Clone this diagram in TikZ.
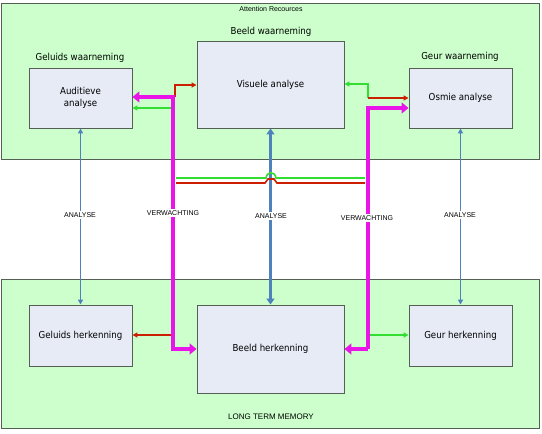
\documentclass[tikz,border=0pt]{standalone}
\usepackage{fontspec}
\setmainfont{Liberation Sans}
\newfontfamily\boxfont[FakeStretch=0.9]{DejaVu Sans}
\usetikzlibrary{arrows.meta}
\definecolor{bggreen}{RGB}{204,255,204}
\definecolor{boxfill}{RGB}{230,235,246}
\definecolor{frame}{RGB}{85,95,85}
\definecolor{magc}{RGB}{232,20,232}
\definecolor{greenc}{RGB}{50,222,50}
\definecolor{redc}{RGB}{204,30,0}
\definecolor{bluec}{RGB}{79,129,189}
\tikzset{
  area/.style={draw=frame,fill=bggreen,line width=0.9pt,inner sep=0pt},
  procbox/.style={draw=frame,fill=boxfill,line width=0.9pt,inner sep=0pt,align=center,font=\boxfont\fontsize{9.6}{12}\selectfont},
  title/.style={font=\boxfont\fontsize{9.6}{12}\selectfont,inner sep=0pt},
  small/.style={font=\fontsize{7}{8}\selectfont,inner sep=0pt},
  lbl/.style={font=\fontsize{7}{8}\selectfont,fill=white,inner sep=2pt},
  magline/.style={draw=magc,line width=4pt,-{Triangle[length=7pt,width=11pt]}},
  grline/.style={draw=greenc,line width=1.6pt,-{Triangle[length=5pt,width=5pt]}},
  rdline/.style={draw=redc,line width=1.6pt,-{Triangle[length=5pt,width=5pt]}},
  blline/.style={draw=bluec,line width=1.4pt,{Triangle[length=5pt,width=5pt]}-{Triangle[length=5pt,width=5pt]}},
  blthick/.style={draw=bluec,line width=3pt,{Triangle[length=6pt,width=8pt]}-{Triangle[length=6pt,width=8pt]}},
}
\begin{document}
\begin{tikzpicture}[x=1pt,y=-1pt]
\useasboundingbox (0,0) rectangle (542,434);
% areas
\node[area,minimum width=538pt,minimum height=156pt] (top) at (270.5,81) {};
\node[area,minimum width=538pt,minimum height=149pt] (bot) at (270.5,353.5) {};
\node[small] (att) at (271,9) {Attention Recources};
\node[small,font=\fontsize{8}{9}\selectfont] (ltm) at (271,417) {LONG TERM MEMORY};
\node[title] (t1) at (271,32) {Beeld waarneming};
\node[title] (t2) at (80,58) {Geluids waarneming};
\node[title] (t3) at (460,57) {Geur waarneming};
% boxes
\node[procbox,minimum width=103pt,minimum height=60pt] (aud) at (80.5,98) {Auditieve\\analyse};
\node[procbox,minimum width=147pt,minimum height=87pt] (vis) at (270.5,84.5) {Visuele analyse};
\node[procbox,minimum width=103pt,minimum height=60pt] (osm) at (460.5,98) {Osmie analyse};
\node[procbox,minimum width=103pt,minimum height=61pt] (gh) at (80.5,335.5) {Geluids herkenning};
\node[procbox,minimum width=147pt,minimum height=88pt] (bh) at (270.5,349) {Beeld herkenning};
\node[procbox,minimum width=103pt,minimum height=61pt] (gr) at (460.5,335.5) {Geur herkenning};
% coordinates
\coordinate (mlt) at (173,95);
\coordinate (mla) at (173,97);
\coordinate (mlb) at (173,349);
\coordinate (mrt) at (368,108);
\coordinate (mrb) at (368,349);
\coordinate (rlt) at (175,85);
\coordinate (rls) at (175,97);
\coordinate (glt) at (172,108);
\coordinate (grs) at (368,98);
\coordinate (grt) at (368,84);
\coordinate (glb) at (173,335);
\coordinate (grb) at (368,335);
\coordinate (hgl) at (176,178);
\coordinate (hgr) at (365,178);
\coordinate (hrl) at (176,183);
\coordinate (hrr) at (365,183);
% blue analysis arrows
\draw[blline] (aud.south) -- (gh.north);
\draw[blthick] (vis.south) -- (bh.north);
\draw[blline] (osm.south) -- (gr.north);
% middle crossing lines with hops
\draw[draw=greenc,line width=1.6pt] (hgl) -- (266,178) .. controls (267,171) and (275,171) .. (276,178) -- (hgr);
\draw[draw=redc,line width=1.6pt] (hrl) -- (265,183) -- (268,179) -- (274,179) -- (277,183) -- (hrr);
% red / green small arrows
\draw[rdline] (rls) -- (rlt) -- (vis.west |- rlt);
\draw[grline] (glt) -- (aud.east |- glt);
\draw[grline] (grs) -- (grt) -- (vis.east |- grt);
\draw[rdline] (grs) -- (osm.west |- grs);
\draw[rdline] (glb) -- (gh.east |- glb);
\draw[grline] (grb) -- (gr.west |- grb);
% magenta expectation lines
\draw[magline] (mlt) -- (mlb) -- (bh.west |- mlb);
\draw[magline] (mla) -- (aud.east |- mla);
\draw[magline] (mrb) -- (mrt) -- (osm.west |- mrt);
\draw[magline] (mrb) -- (bh.east |- mrb);
% labels
\node[lbl] (a1) at (80,215) {ANALYSE};
\node[lbl] (v1) at (173,213) {VERWACHTING};
\node[lbl] (a2) at (271,216) {ANALYSE};
\node[lbl] (v2) at (367,218) {VERWACHTING};
\node[lbl] (a3) at (460,215) {ANALYSE};
\end{tikzpicture}
\end{document}
